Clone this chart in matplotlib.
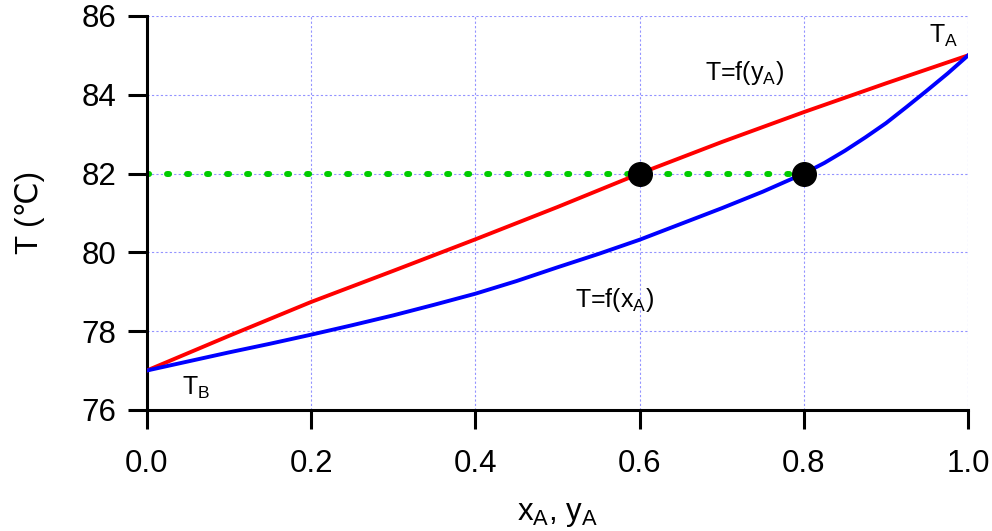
import matplotlib
matplotlib.use('Agg')
import matplotlib.pyplot as plt

plt.rcParams['font.family'] = ['Liberation Sans', 'DejaVu Sans']
plt.rcParams['mathtext.fontset'] = 'custom'
plt.rcParams['mathtext.rm'] = 'Liberation Sans'
plt.rcParams['mathtext.it'] = 'Liberation Sans'

# Liquid (bubble) curve T = f(x_A)
x_liquid = [0.0, 0.05, 0.1, 0.15, 0.2, 0.25, 0.3, 0.35, 0.4, 0.45, 0.5, 0.55,
            0.6, 0.65, 0.7, 0.75, 0.8, 0.825, 0.85, 0.875, 0.9, 0.925, 0.95,
            0.975, 1.0]
t_liquid = [77.0, 77.23, 77.46, 77.68, 77.91, 78.15, 78.40, 78.67, 78.95, 79.27,
            79.62, 79.96, 80.32, 80.72, 81.12, 81.54, 82.0, 82.27, 82.58, 82.92,
            83.28, 83.69, 84.11, 84.54, 85.0]

# Vapour (dew) curve T = f(y_A)
y_vapour = [0.0, 0.1, 0.2, 0.3, 0.4, 0.5, 0.6, 0.7, 0.8, 0.9, 1.0]
t_vapour = [77.0, 77.88, 78.74, 79.53, 80.33, 81.15, 82.0, 82.80, 83.56, 84.29, 85.0]

# Tie line at 82 degC
tie_t = 82.0
tie_y = 0.6
tie_x = 0.8

x_ticks = [0.0, 0.2, 0.4, 0.6, 0.8, 1.0]
y_ticks = [76, 78, 80, 82, 84, 86]

fig = plt.figure(figsize=(9.92, 5.31), dpi=100)
ax = fig.add_axes([0.148, 0.228, 0.828, 0.742])

ax.grid(True, color='#8080ff', linestyle=(0, (2, 2)), linewidth=0.8, alpha=0.85)
ax.set_axisbelow(True)

ax.plot([0.0, tie_x], [tie_t, tie_t], color='#00cc00', linewidth=4.3,
        linestyle=(0, (0.35, 3.0)), dash_capstyle='round', zorder=2)
ax.plot(y_vapour, t_vapour, color='#ff0000', linewidth=2.8, zorder=3,
        solid_joinstyle='round')
ax.plot(x_liquid, t_liquid, color='#0000ff', linewidth=2.8, zorder=3,
        solid_joinstyle='round')
ax.plot([tie_y, tie_x], [tie_t, tie_t], 'o', color='black', markersize=17,
        linestyle='none', zorder=4)

ax.text(0.68, 84.38, r'T=f(y$_\mathregular{A}$)', fontsize=18, va='baseline')
ax.text(0.521, 78.61, r'T=f(x$_\mathregular{A}$)', fontsize=18, va='baseline')
ax.text(0.952, 85.31, r'T$_\mathregular{A}$', fontsize=18, va='baseline')
ax.text(0.0426, 76.38, r'T$_\mathregular{B}$', fontsize=18, va='baseline')

ax.set_xlim(0, 1)
ax.set_ylim(76, 86)
ax.set_xticks(x_ticks)
ax.set_yticks(y_ticks)
ax.set_xticklabels([f'{v:.1f}' for v in x_ticks])

for side in ['top', 'right']:
    ax.spines[side].set_visible(False)
for side in ['left', 'bottom']:
    ax.spines[side].set_linewidth(2.2)
ax.tick_params(direction='out', length=14, width=2.2, labelsize=22.5)
ax.tick_params(axis='x', pad=14)
ax.tick_params(axis='y', pad=8)

ax.set_xlabel(r'x$_\mathregular{A}$, y$_\mathregular{A}$', fontsize=22.5)
ax.set_ylabel('T (℃)', fontsize=22.5)
ax.xaxis.set_label_coords(0.5, -0.225)
ax.yaxis.set_label_coords(-0.124, 0.5)

fig.savefig('out.png', dpi=100)
